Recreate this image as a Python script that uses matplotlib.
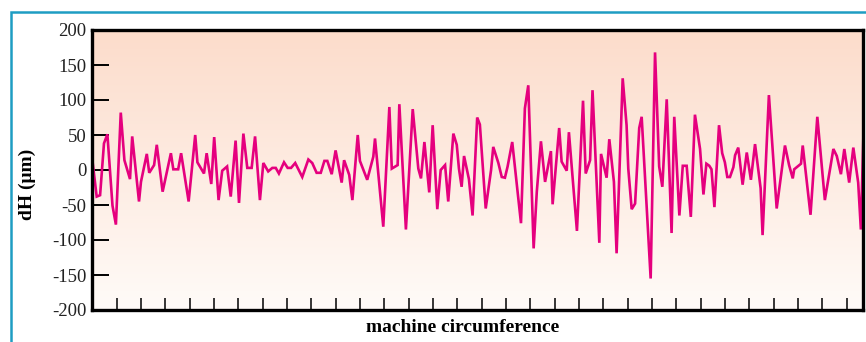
import numpy as np
import matplotlib
matplotlib.use("Agg")
import matplotlib.pyplot as plt
from matplotlib.colors import LinearSegmentedColormap
from matplotlib.patches import Rectangle

plt.rcParams['font.family'] = ['Liberation Serif', 'DejaVu Serif']
plt.rcParams['axes.unicode_minus'] = False

# position along the circumference (in tick intervals) and deviation dH in µm
pos = [0.00, 0.18, 0.32, 0.48, 0.62, 0.83, 0.97, 1.17, 1.32, 1.55,
       1.64, 1.92, 2.00, 2.24, 2.34, 2.54, 2.65, 2.89, 3.23, 3.33,
       3.53, 3.65, 3.96, 4.23, 4.32, 4.59, 4.70, 4.89, 5.01, 5.19,
       5.34, 5.54, 5.69, 5.89, 6.03, 6.21, 6.37, 6.55, 6.69, 6.89,
       7.03, 7.23, 7.40, 7.54, 7.67, 7.88, 8.03, 8.17, 8.34, 8.63,
       8.88, 9.04, 9.22, 9.39, 9.54, 9.66, 9.84, 10.00, 10.25, 10.35,
       10.56, 10.69, 10.91, 11.00, 11.30, 11.55, 11.62, 11.96, 12.21, 12.31,
       12.55, 12.62, 12.89, 13.17, 13.40, 13.51, 13.65, 13.85, 13.99, 14.18,
       14.32, 14.50, 14.63, 14.84, 14.98, 15.07, 15.18, 15.28, 15.48, 15.63,
       15.82, 15.93, 16.17, 16.39, 16.48, 16.69, 16.83, 16.96, 17.07, 17.26,
       17.62, 17.78, 17.92, 18.14, 18.27, 18.44, 18.61, 18.85, 18.92, 19.19,
       19.29, 19.50, 19.59, 19.92, 20.17, 20.28, 20.46, 20.56, 20.84, 20.91,
       21.14, 21.25, 21.44, 21.55, 21.80, 21.96, 22.03, 22.17, 22.31, 22.48,
       22.58, 22.95, 23.13, 23.30, 23.43, 23.61, 23.81, 23.92, 24.13, 24.27,
       24.43, 24.60, 24.77, 24.98, 25.12, 25.24, 25.36, 25.45, 25.57, 25.76,
       25.89, 26.00, 26.10, 26.21, 26.35, 26.42, 26.55, 26.73, 26.90, 27.07,
       27.24, 27.47, 27.55, 27.81, 28.13, 28.47, 28.64, 28.79, 28.85, 29.13,
       29.20, 29.52, 29.80, 30.11, 30.46, 30.60, 30.77, 30.91, 31.11, 31.28,
       31.48, 31.59, 31.69]
dH = [15, -38, -36, 38, 51, -51, -78, 82, 14, -13,
      48, -45, -17, 23, -4, 7, 36, -31, 24, 1,
      1, 24, -45, 50, 11, -5, 24, -20, 47, -43,
      -1, 5, -38, 42, -47, 52, 3, 3, 48, -43,
      10, -2, 3, 3, -5, 11, 3, 3, 10, -10,
      15, 10, -4, -4, 13, 13, -6, 28, -18, 14,
      -7, -43, 50, 13, -14, 19, 45, -81, 90, 2,
      7, 94, -85, 87, 2, -12, 40, -32, 64, -56,
      0, 7, -45, 52, 36, 2, -24, 20, -13, -65,
      75, 65, -55, 0, 33, 10, -10, -11, 5, 40,
      -76, 88, 121, -112, -31, 41, -17, 27, -49, 60,
      12, -1, 54, -87, 99, -5, 14, 114, -104, 23,
      -11, 44, -17, -119, 131, 64, 2, -56, -48, 60,
      76, -155, 168, 5, -24, 101, -90, 76, -65, 6,
      6, -67, 79, 30, -35, 9, 6, 1, -53, 64,
      24, 11, -10, -10, 4, 21, 32, -21, 25, -14,
      37, -26, -93, 107, -55, 35, 7, -12, 1, 9,
      35, -64, 76, -43, 30, 20, -6, 30, -18, 32,
      -18, -85, 44]

yticks = [-200, -150, -100, -50, 0, 50, 100, 150, 200]
xticks = list(range(1, 32))

fig = plt.figure(figsize=(8.66, 3.42), dpi=100)
fig.patch.set_facecolor('white')

# teal frame around the figure panel
fig.patches.append(Rectangle((11 / 866, -0.2), 1.2, 1.2 - 12 / 342,
                             transform=fig.transFigure, fill=False,
                             edgecolor='#1E9DC3', linewidth=1.8, zorder=0))

ax = fig.add_axes([92.3 / 866, 32 / 342, (863.3 - 92.3) / 866, 280 / 342])

# peach-to-white vertical gradient background
cmap = LinearSegmentedColormap.from_list('bg', ['#FFFBF8', '#FCDCCB'])
grad = np.linspace(0, 1, 256).reshape(-1, 1)
ax.imshow(grad, cmap=cmap, aspect='auto', extent=[0, 1, 0, 1],
          transform=ax.transAxes, origin='lower', zorder=0)

ax.plot(pos, dH, color='#E5007E', linewidth=1.9, zorder=2,
        solid_joinstyle='miter')

ax.set_xlim(0, 31.69)
ax.set_ylim(-200, 200)
ax.set_yticks(yticks)
ax.set_xticks(xticks)
ax.set_xticklabels([])
ax.tick_params(axis='y', direction='in', length=12, width=1.4,
               labelsize=13.5, pad=4, colors='black')
ax.tick_params(axis='x', direction='in', length=9, width=1.1, colors='black')
ax.tick_params(axis='y', labelcolor='#222222')
for s in ax.spines.values():
    s.set_linewidth(2.4)
    s.set_color('black')
    s.set_zorder(3)

fig.text(27 / 866, 1 - 184 / 342, 'dH (μm)', rotation=90, ha='center',
         va='center', fontsize=14, fontweight='bold')
fig.text(462.5 / 866, 1 - 328 / 342, 'machine circumference', ha='center',
         va='center', fontsize=14, fontweight='bold')

fig.savefig('out.png', dpi=100)
